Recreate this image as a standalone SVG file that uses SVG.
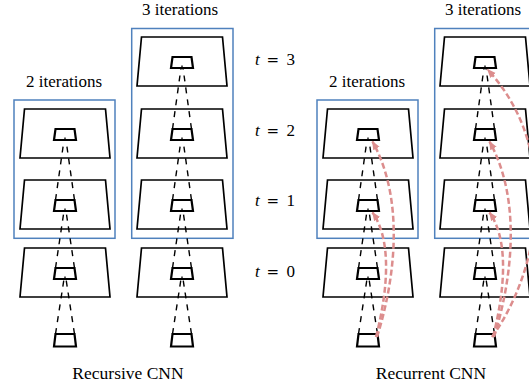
<svg xmlns="http://www.w3.org/2000/svg" width="529" height="387" viewBox="0 0 529 387">
<style>
.big{fill:#fff;stroke:#000;stroke-width:1.7;stroke-linejoin:miter}
.small{fill:none;stroke:#000;stroke-width:2.2;stroke-linejoin:miter}
.tick{stroke:#000;stroke-width:1.3}
.cone{stroke:#000;stroke-width:1.4;stroke-dasharray:6 6;fill:none}
.box{fill:none;stroke:#4f81bd;stroke-width:1.5}
.rec{fill:none;stroke:#dc8d8d;stroke-width:2.5;stroke-dasharray:6 3;marker-end:url(#ah)}
text{font-family:'Liberation Serif','Times New Roman','DejaVu Serif',serif;fill:#000}
.lbl{font-size:17px}
.ttl{font-size:17.5px}
.eq{font-family:'DejaVu Serif',serif;font-size:15px}
</style>
<defs>
<g id="layer">
<polygon class="big" points="-40.5,0 40.5,0 45,49 -45,49"/>
<polygon class="small" points="-9.5,20 9.5,20 11,31 -11,31"/>
<line class="tick" x1="0" y1="28.5" x2="0" y2="31"/>
</g>
<polygon id="inp" class="small" points="-9.5,0 9.5,0 11,12.5 -11,12.5"/>
<marker id="ah" viewBox="0 0 10 10" refX="9" refY="5" markerWidth="9" markerHeight="9" markerUnits="userSpaceOnUse" orient="auto">
<path d="M0,1 L10,5 L0,9 z" fill="#dc8d8d"/>
</marker>
</defs>

<g id="boxes">
<rect class="box" x="14" y="100" width="101" height="138.3"/>
<rect class="box" x="131.7" y="28.5" width="101.3" height="209.8"/>
<rect class="box" x="317" y="100" width="101" height="138.3"/>
<rect class="box" x="434.7" y="28.5" width="101.3" height="209.8"/>
</g>

<g id="rec2-t2"><use href="#layer" x="65" y="109"/></g>
<g id="rec2-t1"><use href="#layer" x="65" y="180"/></g>
<g id="rec2-t0"><use href="#layer" x="65" y="248"/></g>
<g id="rec2-in"><use href="#inp" x="65" y="334"/></g>
<g id="rec3-t3"><use href="#layer" x="182" y="37"/></g>
<g id="rec3-t2"><use href="#layer" x="182" y="109"/></g>
<g id="rec3-t1"><use href="#layer" x="182" y="180"/></g>
<g id="rec3-t0"><use href="#layer" x="182" y="248"/></g>
<g id="rec3-in"><use href="#inp" x="182" y="334"/></g>
<g id="rcn2-t2"><use href="#layer" x="368" y="109"/></g>
<g id="rcn2-t1"><use href="#layer" x="368" y="180"/></g>
<g id="rcn2-t0"><use href="#layer" x="368" y="248"/></g>
<g id="rcn2-in"><use href="#inp" x="368" y="334"/></g>
<g id="rcn3-t3"><use href="#layer" x="485" y="37"/></g>
<g id="rcn3-t2"><use href="#layer" x="485" y="109"/></g>
<g id="rcn3-t1"><use href="#layer" x="485" y="180"/></g>
<g id="rcn3-t0"><use href="#layer" x="485" y="248"/></g>
<g id="rcn3-in"><use href="#inp" x="485" y="334"/></g>

<g id="connectors">
<path class="cone" d="M55.5,334 L64,279 M74.5,334 L66,279 M55.5,268 L64,211 M74.5,268 L66,211 M55.5,200 L64,140 M74.5,200 L66,140"/>
<path class="cone" d="M172.5,334 L181,279 M191.5,334 L183,279 M172.5,268 L181,211 M191.5,268 L183,211 M172.5,200 L181,140 M191.5,200 L183,140 M172.5,129 L181,68 M191.5,129 L183,68"/>
<path class="cone" d="M358.5,334 L367,279 M377.5,334 L369,279 M358.5,268 L367,211 M377.5,268 L369,211 M358.5,200 L367,140 M377.5,200 L369,140"/>
<path class="cone" d="M475.5,334 L484,279 M494.5,334 L486,279 M475.5,268 L484,211 M494.5,268 L486,211 M475.5,200 L484,140 M494.5,200 L486,140 M475.5,129 L484,68 M494.5,129 L486,68"/>
<path class="rec" d="M376,337 C388,290 392,240 372.5,212.5"/>
<path class="rec" d="M377,337 C395,280 405,200 372.5,141.5"/>
<path class="rec" d="M493,337 C505,290 509,240 489.5,212.5"/>
<path class="rec" d="M494,337 C512,280 522,200 489.5,141.5"/>
<path class="rec" d="M492,337 C540,270 562,150 487.5,69.5"/>
</g>

<g id="labels">
<text class="lbl" x="180" y="15" text-anchor="middle">3 iterations</text>
<text class="lbl" x="64" y="87" text-anchor="middle">2 iterations</text>
<text class="lbl" x="483" y="15" text-anchor="middle">3 iterations</text>
<text class="lbl" x="367" y="87" text-anchor="middle">2 iterations</text>
<text class="lbl" x="255" y="65"><tspan font-style="italic">t</tspan><tspan class="eq" x="266.5">=</tspan><tspan x="286.5">3</tspan></text>
<text class="lbl" x="255" y="136"><tspan font-style="italic">t</tspan><tspan class="eq" x="266.5">=</tspan><tspan x="286.5">2</tspan></text>
<text class="lbl" x="255" y="206"><tspan font-style="italic">t</tspan><tspan class="eq" x="266.5">=</tspan><tspan x="286.5">1</tspan></text>
<text class="lbl" x="255" y="277"><tspan font-style="italic">t</tspan><tspan class="eq" x="266.5">=</tspan><tspan x="286.5">0</tspan></text>
<text class="ttl" x="128" y="379" text-anchor="middle">Recursive CNN</text>
<text class="ttl" x="431" y="379" text-anchor="middle">Recurrent CNN</text>
</g>
</svg>
